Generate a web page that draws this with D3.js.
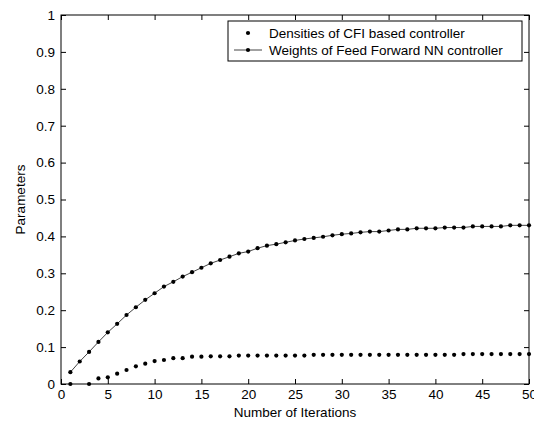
<!DOCTYPE html>
<html lang="en">
<head>
<meta charset="UTF-8">
<title>Parameters vs Iterations</title>
<script src="https://cdnjs.cloudflare.com/ajax/libs/d3/7.9.0/d3.min.js"></script>
<style>
    body { margin: 0; background: #fff; }
    svg text { font-family: "Liberation Sans", Arial, sans-serif; fill: #000; }
</style>
</head>
<body>
<div id="chart"></div>
<script>
    // iterations 1..50
    const iterations = d3.range(1, 51);

    // Densities of CFI based controller (dots only); iteration 2 has no visible point
    const densities = [
        0, null, 0, 0.015, 0.018, 0.028, 0.038, 0.048, 0.055, 0.062,
        0.065, 0.070, 0.070, 0.074, 0.074, 0.075, 0.075, 0.075, 0.077, 0.077,
        0.077, 0.077, 0.077, 0.077, 0.077, 0.077, 0.079, 0.079, 0.079, 0.079,
        0.079, 0.079, 0.079, 0.079, 0.079, 0.079, 0.079, 0.079, 0.079, 0.079,
        0.079, 0.079, 0.081, 0.081, 0.081, 0.081, 0.081, 0.081, 0.081, 0.081
    ];

    // Weights of Feed Forward NN controller (line + dots)
    const weights = [
        0.032, 0.061, 0.087, 0.114, 0.140, 0.163, 0.187, 0.208, 0.228, 0.246,
        0.264, 0.277, 0.291, 0.303, 0.315, 0.327, 0.336, 0.345, 0.354, 0.359,
        0.368, 0.375, 0.379, 0.384, 0.389, 0.393, 0.396, 0.399, 0.403, 0.406,
        0.408, 0.411, 0.413, 0.413, 0.416, 0.419, 0.419, 0.422, 0.422, 0.422,
        0.424, 0.424, 0.424, 0.427, 0.427, 0.427, 0.427, 0.430, 0.430, 0.430
    ];

    const xTicks = d3.range(0, 51, 5);
    const yTicks = d3.range(0, 1.01, 0.1);
    const legendLabels = ['Densities of CFI based controller', 'Weights of Feed Forward NN controller'];

    const width = 534, height = 421;
    const margin = { top: 15, right: 5, bottom: 37, left: 61 };
    const w = width - margin.left - margin.right;
    const h = height - margin.top - margin.bottom;
    const fontSize = '13.5px';

    const svg = d3.select('#chart').append('svg')
        .attr('width', width)
        .attr('height', height);

    const g = svg.append('g')
        .attr('transform', `translate(${margin.left},${margin.top})`);

    const x = d3.scaleLinear().domain([0, 50]).range([0, w]);
    const y = d3.scaleLinear().domain([0, 1]).range([h, 0]);

    const fmt = d => d === 0 ? '0' : (d === 1 ? '1' : d3.format('.1f')(d));

    // axes with inward ticks on all four sides (matlab box)
    const styleAxis = sel => {
        sel.select('.domain').remove();
        sel.selectAll('line').attr('stroke', '#000');
        sel.selectAll('text').style('font-size', fontSize);
    };

    g.append('g')
        .attr('transform', `translate(0,${h})`)
        .call(d3.axisBottom(x).tickValues(xTicks).tickSizeInner(-5).tickSizeOuter(0).tickPadding(5))
        .call(styleAxis);

    g.append('g')
        .call(d3.axisLeft(y).tickValues(yTicks).tickFormat(fmt).tickSizeInner(-5).tickSizeOuter(0).tickPadding(6))
        .call(styleAxis);

    g.append('g')
        .call(d3.axisTop(x).tickValues(xTicks).tickSizeInner(-5).tickSizeOuter(0).tickFormat(''))
        .call(styleAxis);

    g.append('g')
        .attr('transform', `translate(${w},0)`)
        .call(d3.axisRight(y).tickValues(yTicks).tickSizeInner(-5).tickSizeOuter(0).tickFormat(''))
        .call(styleAxis);

    g.append('rect')
        .attr('x', 0).attr('y', 0)
        .attr('width', w).attr('height', h)
        .attr('fill', 'none')
        .attr('stroke', '#000')
        .attr('stroke-width', 1);

    // weights line
    const line = d3.line()
        .x((d, i) => x(iterations[i]))
        .y(d => y(d));

    g.append('path')
        .datum(weights)
        .attr('d', line)
        .attr('fill', 'none')
        .attr('stroke', '#444')
        .attr('stroke-width', 1);

    g.selectAll('.wdot')
        .data(weights)
        .enter().append('circle')
        .attr('class', 'wdot')
        .attr('cx', (d, i) => x(iterations[i]))
        .attr('cy', d => y(d))
        .attr('r', 2.1)
        .attr('fill', '#000');

    g.selectAll('.ddot')
        .data(densities.map((v, i) => ({ it: iterations[i], v })).filter(d => d.v !== null))
        .enter().append('circle')
        .attr('class', 'ddot')
        .attr('cx', d => x(d.it))
        .attr('cy', d => y(d.v))
        .attr('r', 2.1)
        .attr('fill', '#000');

    // axis labels
    svg.append('text')
        .attr('x', margin.left + w / 2)
        .attr('y', 417)
        .attr('text-anchor', 'middle')
        .style('font-size', fontSize)
        .text('Number of Iterations');

    svg.append('text')
        .attr('transform', `translate(25,${margin.top + h / 2}) rotate(-90)`)
        .attr('text-anchor', 'middle')
        .style('font-size', fontSize)
        .text('Parameters');

    // legend
    const lg = svg.append('g').attr('transform', 'translate(228,21)');
    lg.append('rect')
        .attr('width', 294).attr('height', 40)
        .attr('fill', '#fff')
        .attr('stroke', '#000');

    lg.append('circle').attr('cx', 20).attr('cy', 12).attr('r', 2.1).attr('fill', '#000');
    lg.append('line')
        .attr('x1', 6).attr('x2', 34).attr('y1', 29).attr('y2', 29)
        .attr('stroke', '#444');
    lg.append('circle').attr('cx', 20).attr('cy', 29).attr('r', 2.1).attr('fill', '#000');

    lg.selectAll('.ltext')
        .data(legendLabels)
        .enter().append('text')
        .attr('class', 'ltext')
        .attr('x', 41)
        .attr('y', (d, i) => 17 + i * 17)
        .style('font-size', fontSize)
        .text(d => d);
</script>
</body>
</html>
